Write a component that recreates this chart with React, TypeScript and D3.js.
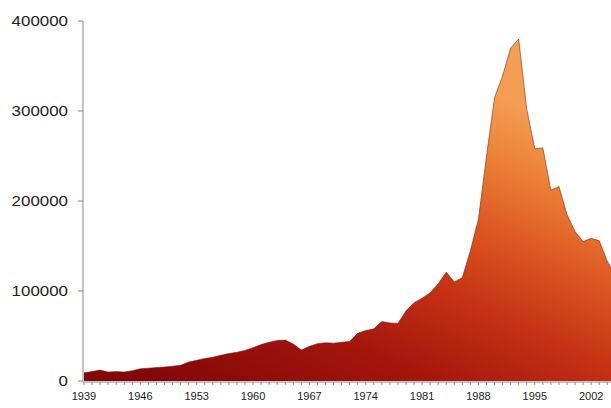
import React from "react";
import * as d3 from "d3";

// Annual values, 1939–2005
const years: number[] = d3.range(1939, 2006);
const values: number[] = [
  9200, 10500, 12200, 10000, 10500, 10000, 11500, 13500, 14200, 15000,
  15500, 16500, 17500, 21000, 23000, 25000, 26500, 28500, 30500, 32000,
  34000, 37000, 40500, 43000, 45000, 45500, 41000, 34500, 38500, 41500,
  42500, 42000, 43000, 44000, 53000, 56000, 58000, 66000, 64500, 64000,
  78000, 87000, 92000, 98000, 108000, 121000, 110000, 115000, 145000, 180000,
  250000, 315000, 339000, 370000, 380000, 302000, 258000, 259000, 212000, 216000,
  185000, 166000, 155000, 158500, 156000, 133000, 118000,
];
const yTicks: number[] = [0, 100000, 200000, 300000, 400000];
const xLabelYears: number[] = [1939, 1946, 1953, 1960, 1967, 1974, 1981, 1988, 1995, 2002];

const W = 611;
const H = 408;

export default function App() {
  const x = d3.scaleLinear().domain([1939, 2005]).range([84, 84 + 66 * 8.05]);
  const y = d3.scaleLinear().domain([0, 400000]).range([381, 21]);
  const data = years.map((yr, i) => ({ yr, v: values[i] }));

  const area = d3
    .area<{ yr: number; v: number }>()
    .x((d) => x(d.yr))
    .y0(y(0))
    .y1((d) => y(d.v));
  const line = d3
    .line<{ yr: number; v: number }>()
    .x((d) => x(d.yr))
    .y((d) => y(d.v));

  const font = "'Liberation Sans', Arial, Helvetica, sans-serif";

  return (
    <svg
      width={W}
      height={H}
      style={{ position: "absolute", left: 0, top: 0, background: "#fff" }}
    >
      <defs>
        <linearGradient
          id="fillGrad"
          gradientUnits="userSpaceOnUse"
          x1={200}
          y1={395}
          x2={370}
          y2={35}
        >
          <stop offset="0" stopColor="#840808" />
          <stop offset="0.28" stopColor="#a5150c" />
          <stop offset="0.5" stopColor="#c53214" />
          <stop offset="0.68" stopColor="#dc5622" />
          <stop offset="0.85" stopColor="#eb8035" />
          <stop offset="1" stopColor="#f39e52" />
        </linearGradient>
        <clipPath id="plotClip">
          <rect x={0} y={0} width={W} height={H} />
        </clipPath>
      </defs>

      <g clipPath="url(#plotClip)">
        <path d={area(data) ?? ""} fill="url(#fillGrad)" />
        <path
          d={line(data) ?? ""}
          fill="none"
          stroke="#6e0c05"
          strokeOpacity={0.5}
          strokeWidth={1}
        />
      </g>

      {/* y axis */}
      <line x1={83} x2={83} y1={y(400000)} y2={y(0)} stroke="#8a8a8a" strokeWidth={1} />
      {yTicks.map((t) => (
        <g key={t}>
          <line x1={78} x2={83} y1={y(t)} y2={y(t)} stroke="#8a8a8a" strokeWidth={1} />
          <text
            x={68}
            y={y(t)}
            dy="0.36em"
            textAnchor="end"
            fontFamily={font}
            fontSize={14.5}
            fill="#222"
            textLength={String(t).length * 9.4}
            lengthAdjust="spacingAndGlyphs"
          >
            {t}
          </text>
        </g>
      ))}

      {/* x axis */}
      <line x1={83} x2={W} y1={382} y2={382} stroke="#8a8a8a" strokeWidth={1} />
      {years.map((yr) => (
        <line
          key={yr}
          x1={x(yr)}
          x2={x(yr)}
          y1={382}
          y2={385}
          stroke="#8a8a8a"
          strokeWidth={1}
        />
      ))}
      {xLabelYears.map((yr) => (
        <text
          key={yr}
          x={x(yr)}
          y={400}
          textAnchor="middle"
          fontFamily={font}
          fontSize={11}
          fill="#222"
        >
          {yr}
        </text>
      ))}
    </svg>
  );
}
